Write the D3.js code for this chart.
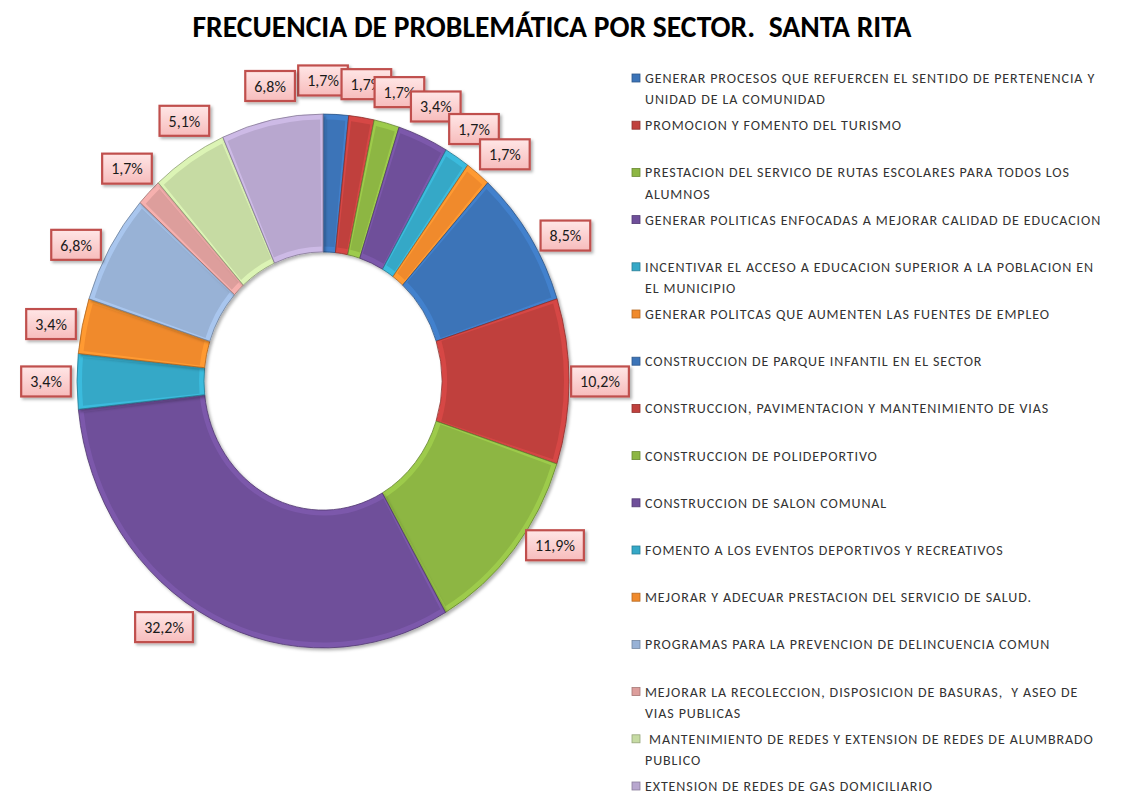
<!DOCTYPE html>
<html>
<head>
<meta charset="utf-8">
<script src="https://cdn.jsdelivr.net/npm/d3@7"></script>
<style>
  body { margin: 0; background: #fff; }
  svg { display: block; }
</style>
</head>
<body>
<div id="chart"></div>
<script>
const title = "FRECUENCIA DE PROBLEMÁTICA POR SECTOR.  SANTA RITA";

// legend text, with the line breaks as they appear in the legend
const categories = [
    "GENERAR PROCESOS QUE REFUERCEN EL SENTIDO DE PERTENENCIA Y\nUNIDAD DE LA COMUNIDAD",
    "PROMOCION Y FOMENTO DEL TURISMO",
    "PRESTACION DEL SERVICO DE RUTAS ESCOLARES PARA TODOS LOS\nALUMNOS",
    "GENERAR POLITICAS ENFOCADAS A MEJORAR CALIDAD DE EDUCACION",
    "INCENTIVAR EL ACCESO A EDUCACION SUPERIOR A LA POBLACION EN\nEL MUNICIPIO",
    "GENERAR POLITCAS QUE AUMENTEN LAS FUENTES DE EMPLEO",
    "CONSTRUCCION DE PARQUE INFANTIL EN EL SECTOR",
    "CONSTRUCCION, PAVIMENTACION Y MANTENIMIENTO DE VIAS",
    "CONSTRUCCION DE POLIDEPORTIVO",
    "CONSTRUCCION DE SALON COMUNAL",
    "FOMENTO A LOS EVENTOS DEPORTIVOS Y RECREATIVOS",
    "MEJORAR Y ADECUAR PRESTACION DEL SERVICIO DE SALUD.",
    "PROGRAMAS PARA LA PREVENCION DE DELINCUENCIA COMUN",
    "MEJORAR LA RECOLECCION, DISPOSICION DE BASURAS,  Y ASEO DE\nVIAS PUBLICAS",
    " MANTENIMIENTO DE REDES Y EXTENSION DE REDES DE ALUMBRADO\nPUBLICO",
    "EXTENSION DE REDES DE GAS DOMICILIARIO"
];

const percents = [1.7, 1.7, 1.7, 3.4, 1.7, 1.7, 8.5, 10.2, 11.9, 32.2, 3.4, 3.4, 6.8, 1.7, 5.1, 6.8];

const colors = [
    "#3c74b8", "#c0403d", "#8db643", "#6f4f9a", "#35a8c7", "#f08a2c",
    "#3c74b8", "#c0403d", "#8db643", "#6f4f9a", "#35a8c7", "#f08a2c",
    "#98b2d6", "#dd9e9c", "#c6dba3", "#b8a7cf"
];

// small angle shifts (degrees) for the data labels, as they were placed in the original
const labelNudge = [-3, 0, 1, 0, 0, 2, 4, 0, -6, 8, 0, -1, -3, 0, 3, 1];

const width = 1137, height = 793;
const cx = 323, cy = 381;
const rOuter = 246, rInner = 119, ky = 1.085;
const rLabel = 277;

const svg = d3.select("#chart").append("svg")
    .attr("width", width)
    .attr("height", height);

const defs = svg.append("defs");

const shadow = defs.append("filter")
    .attr("id", "shadow")
    .attr("x", "-20%").attr("y", "-20%")
    .attr("width", "150%").attr("height", "150%");
shadow.append("feDropShadow")
    .attr("dx", 2).attr("dy", 2)
    .attr("stdDeviation", 1.6)
    .attr("flood-color", "#000")
    .attr("flood-opacity", 0.3);

const boxGrad = defs.append("linearGradient")
    .attr("id", "boxGrad")
    .attr("x1", 0).attr("y1", 0).attr("x2", 0).attr("y2", 1);
boxGrad.append("stop").attr("offset", "0%").attr("stop-color", "#ffe6e6");
boxGrad.append("stop").attr("offset", "100%").attr("stop-color", "#f7bcbc");

// title
svg.append("text")
    .attr("x", 552)
    .attr("y", 37)
    .attr("text-anchor", "middle")
    .attr("textLength", 719)
    .attr("lengthAdjust", "spacingAndGlyphs")
    .style("white-space", "pre")
    .style("font-family", "Carlito, Calibri, Lato, sans-serif")
    .style("font-weight", "bold")
    .style("font-size", "30px")
    .style("fill", "#000")
    .text(title);

// doughnut
const pie = d3.pie().sort(null).value(d => d);
const arcs = pie(percents);

const arcOuter = d3.arc().innerRadius(rInner).outerRadius(rOuter);
const arcInset = d3.arc().innerRadius(rInner + 5).outerRadius(rOuter - 5);

const ring = svg.append("g")
    .attr("transform", `translate(${cx},${cy}) scale(1,${ky})`);

const slice = ring.selectAll(".slice")
    .data(arcs)
    .enter().append("g")
    .attr("class", "slice");

slice.append("path")
    .attr("d", arcOuter)
    .style("fill", (d, i) => d3.color(colors[i]).brighter(0.3))
    .style("stroke", (d, i) => d3.color(colors[i]).darker(0.9))
    .style("stroke-width", 0.8)
    .attr("vector-effect", "non-scaling-stroke")
    .attr("filter", "url(#shadow)");

slice.append("path")
    .attr("d", d => {
        const pad = Math.min(0.012, (d.endAngle - d.startAngle) / 4);
        return arcInset({ startAngle: d.startAngle + pad, endAngle: d.endAngle - pad });
    })
    .style("fill", (d, i) => colors[i]);

// data labels
const fmt = v => d3.format(".1f")(v).replace(".", ",") + "%";

const labels = svg.selectAll(".dlabel")
    .data(arcs)
    .enter().append("g")
    .attr("class", "dlabel")
    .attr("transform", (d, i) => {
        const a = (d.startAngle + d.endAngle) / 2 + labelNudge[i] * Math.PI / 180;
        const x = cx + rLabel * Math.sin(a);
        const y = cy - rLabel * ky * Math.cos(a);
        return `translate(${x},${y})`;
    });

labels.append("rect")
    .attr("filter", "url(#shadow)")
    .style("fill", "url(#boxGrad)")
    .style("stroke", "#c0504d")
    .style("stroke-width", 2.2);

labels.append("text")
    .attr("text-anchor", "middle")
    .attr("dy", "0.36em")
    .style("font-family", "Carlito, Calibri, Lato, sans-serif")
    .style("font-size", "16px")
    .style("fill", "#1a1a1a")
    .text(d => fmt(d.data));

labels.each(function () {
    const g = d3.select(this);
    const w = g.select("text").node().getComputedTextLength() + 18;
    g.select("rect")
        .attr("x", -w / 2).attr("y", -15)
        .attr("width", w).attr("height", 30);
});

// legend
const legendX = 632, legendY = 78, legendStep = 47.2, lineH = 21.5;

const legend = svg.selectAll(".legend")
    .data(categories)
    .enter().append("g")
    .attr("class", "legend")
    .attr("transform", (d, i) => `translate(${legendX},${legendY + i * legendStep})`);

legend.append("rect")
    .attr("x", 0).attr("y", -4)
    .attr("width", 8).attr("height", 8)
    .style("fill", (d, i) => colors[i])
    .style("stroke", (d, i) => d3.color(colors[i]).darker(0.8))
    .style("stroke-width", 0.8);

legend.append("text")
    .style("font-family", "Carlito, Calibri, Lato, sans-serif")
    .style("font-size", "14px")
    .style("letter-spacing", "0.9px")
    .style("fill", "#333")
    .style("white-space", "pre")
    .selectAll("tspan")
    .data(d => d.split("\n"))
    .enter().append("tspan")
    .attr("x", 13)
    .attr("y", (d, j) => j * lineH)
    .attr("dy", "0.35em")
    .text(d => d);
</script>
</body>
</html>
